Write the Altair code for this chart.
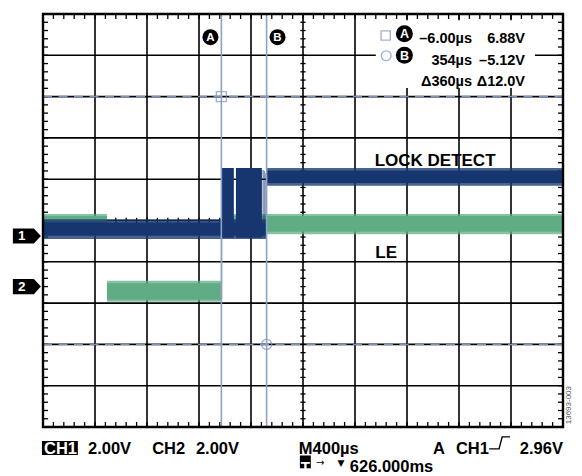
import altair as alt
import pandas as pd

# ------------------------------------------------------------------
# Data, in screen divisions: x 0..10 (400 us/div), y -5..5 (2 V/div)
# ------------------------------------------------------------------
grid_x = [1, 2, 3, 4, 5, 6, 7, 8, 9]
grid_y = [-4, -3, -2, -1, 0, 1, 2, 3, 4]

cursor_name = ["A", "B"]
cursor_x = [3.43, 4.30]
cursor_y = [3.0, -3.0]

# CH1 (LOCK DETECT) trace envelope per segment
ch1_x0 = [0.00, 4.30]
ch1_x1 = [4.30, 10.00]
ch1_core_lo = [-0.37, 0.91]
ch1_core_hi = [-0.05, 1.21]
ch1_env_lo = [-0.45, 0.84]
ch1_env_hi = [0.03, 1.27]

# CH1 chatter between the cursors
burst_x0 = [3.44, 3.71, 4.225, 4.255, 4.28]
burst_x1 = [3.67, 4.21, 4.24, 4.265, 4.29]
burst_lo = [-0.42, -0.42, -0.42, -0.42, -0.42]
burst_hi = [1.27, 1.27, 1.22, 1.20, 1.15]

# CH2 (LE) trace envelope per segment
ch2_x0 = [0.00, 1.23, 3.425, 3.43]
ch2_x1 = [1.23, 3.43, 3.445, 10.00]
ch2_core_lo = [-0.27, -1.92, -1.90, -0.27]
ch2_core_hi = [0.11, -1.52, 0.00, 0.11]
ch2_env_lo = [-0.33, -1.97, -1.90, -0.33]
ch2_env_hi = [0.16, -1.46, 0.00, 0.16]

# cursor readout
readout_t = ["\u20136.00\u00b5s", "354\u00b5s", "\u0394360\u00b5s"]
readout_v = ["6.88V", "\u20135.12V", "\u039412.0V"]

trace_labels = ["LOCK DETECT", "LE"]
ground_labels = ["1", "2"]
ground_y = [-0.375, -1.60]

bottom_row1 = ["2.00V", "CH2", "2.00V", "M400\u00b5s", "A", "CH1", "2.96V"]
bottom_row2 = ["626.000ms"]
figure_id = "13693-003"

# ------------------------------------------------------------------
BLUE = "#17366f"
GREEN = "#60ad85"
CURSOR = "#8ea2c8"
DASH = "#7c93c2"
FONT = "Liberation Sans"

xs = alt.Scale(domain=[0, 10], nice=False, zero=False)
ys = alt.Scale(domain=[-5, 5], nice=False, zero=False)


def X(f):
    return alt.X(f, type="quantitative", scale=xs, axis=None)


def Y(f):
    return alt.Y(f, type="quantitative", scale=ys, axis=None)


def rules(df, **kw):
    return alt.Chart(df).mark_rule(**kw).encode(x=X("x"), x2="x2", y=Y("y"), y2="y2")


def rects(df, **kw):
    return alt.Chart(df).mark_rect(**kw).encode(x=X("x"), x2="x2", y=Y("y"), y2="y2")


def texts(df, **kw):
    base = dict(font=FONT, fontWeight="bold", color="black")
    base.update(kw)
    return alt.Chart(df).mark_text(**base).encode(x=X("x"), y=Y("y"), text="t:N")


layers = []

# grid
layers.append(rules(pd.DataFrame({"x": grid_x, "x2": grid_x, "y": -5, "y2": 5}),
                    color="black", strokeWidth=1.6))
layers.append(rules(pd.DataFrame({"x": 0, "x2": 10, "y": grid_y, "y2": grid_y}),
                    color="black", strokeWidth=1.6))

# minor ticks (5 per division)
mx = [i / 5 for i in range(1, 50)]
my = [-5 + i / 5 for i in range(1, 50)]
tick_rows = []
for v in mx:
    tick_rows.append((v, v, 5, 5 - 0.12))
    tick_rows.append((v, v, -5, -5 + 0.12))
    tick_rows.append((v, v, -0.065, 0.065))
for v in my:
    tick_rows.append((0, 0.096, v, v))
    tick_rows.append((10 - 0.096, 10, v, v))
    tick_rows.append((5 - 0.05, 5 + 0.05, v, v))
ticks = pd.DataFrame(tick_rows, columns=["x", "x2", "y", "y2"])
layers.append(rules(ticks, color="black", strokeWidth=1.3))

# horizontal (voltage) cursors
layers.append(rules(pd.DataFrame({"x": 0, "x2": 10, "y": cursor_y, "y2": cursor_y}),
                    color=DASH, strokeWidth=1.5, strokeDash=[9, 6.5]))

# CH2 trace
ch2 = pd.DataFrame({"x": ch2_x0, "x2": ch2_x1})
layers.append(rects(ch2.assign(y=ch2_env_lo, y2=ch2_env_hi), color=GREEN, opacity=0.75))
layers.append(rects(ch2.assign(y=ch2_core_lo, y2=ch2_core_hi), color=GREEN, opacity=1))

# CH1 trace
ch1 = pd.DataFrame({"x": ch1_x0, "x2": ch1_x1})
layers.append(rects(ch1.assign(y=ch1_env_lo, y2=ch1_env_hi), color=BLUE, opacity=0.78))
layers.append(rects(ch1.assign(y=ch1_core_lo, y2=ch1_core_hi), color=BLUE, opacity=1))
layers.append(rects(pd.DataFrame({"x": burst_x0, "x2": burst_x1, "y": burst_lo, "y2": burst_hi}),
                    color=BLUE, opacity=1))

# vertical (time) cursors
layers.append(rules(pd.DataFrame({"x": cursor_x, "x2": cursor_x, "y": -5, "y2": 5}),
                    color=CURSOR, strokeWidth=1.6))

# cursor crossing markers
layers.append(alt.Chart(pd.DataFrame({"x": [cursor_x[0]], "y": [cursor_y[0]]}))
              .mark_point(shape="square", size=100, color=DASH, strokeWidth=1.4, filled=False)
              .encode(x=X("x"), y=Y("y")))
layers.append(alt.Chart(pd.DataFrame({"x": [cursor_x[1]], "y": [cursor_y[1]]}))
              .mark_point(shape="circle", size=100, color=DASH, strokeWidth=1.4, filled=False)
              .encode(x=X("x"), y=Y("y")))

# circled cursor names near the top
cur_tag = pd.DataFrame({"x": [3.22, 4.51], "y": [4.44, 4.44], "t": cursor_name})
layers.append(alt.Chart(cur_tag).mark_point(shape="circle", size=256, filled=True, color="black", opacity=1)
              .encode(x=X("x"), y=Y("y")))
layers.append(texts(cur_tag, color="white", fontSize=11.5, align="center", baseline="middle", dy=0.5))

# readout box
layers.append(rects(pd.DataFrame({"x": [6.40], "x2": [9.46], "y": [3.21], "y2": [4.85]}),
                    color="white", opacity=1))
layers.append(alt.Chart(pd.DataFrame({"x": [6.59], "y": [4.48]}))
              .mark_point(shape="square", size=85, color=DASH, strokeWidth=1.4, filled=False)
              .encode(x=X("x"), y=Y("y")))
layers.append(alt.Chart(pd.DataFrame({"x": [6.60], "y": [3.99]}))
              .mark_point(shape="circle", size=95, color=DASH, strokeWidth=1.4, filled=False)
              .encode(x=X("x"), y=Y("y")))
ro_tag = pd.DataFrame({"x": [6.95, 6.95], "y": [4.52, 4.00], "t": cursor_name})
layers.append(alt.Chart(ro_tag).mark_point(shape="circle", size=289, filled=True, color="black", opacity=1)
              .encode(x=X("x"), y=Y("y")))
layers.append(texts(ro_tag, color="white", fontSize=12.5, align="center", baseline="middle", dy=0.5))
ro_y = [4.39, 3.85, 3.36]
layers.append(texts(pd.DataFrame({"x": 8.25, "y": ro_y, "t": readout_t}), fontSize=14.5, align="right"))
layers.append(texts(pd.DataFrame({"x": 9.27, "y": ro_y, "t": readout_v}), fontSize=14.5, align="right"))

# trace labels
layers.append(texts(pd.DataFrame({"x": [7.54, 6.60], "y": [1.44, -0.79], "t": trace_labels}),
                    fontSize=17, align="center"))

# outer frame
layers.append(rects(pd.DataFrame({"x": [0], "x2": [10], "y": [-5], "y2": [5]}),
                    fillOpacity=0, stroke="black", strokeWidth=2.4))

# channel ground markers
gm = pd.DataFrame({"x": -0.31, "y": ground_y, "t": ground_labels})
layers.append(alt.Chart(gm).mark_point(shape="M-1,-0.54L0.5,-0.54L1,0L0.5,0.54L-1,0.54Z",
                                       size=784, filled=True, color="black", opacity=1, strokeWidth=0)
              .encode(x=X("x"), y=Y("y")))
layers.append(texts(gm.assign(x=-0.41), color="white", fontSize=13.5, align="center", baseline="middle", dy=0.5))

# bottom status line
layers.append(rects(pd.DataFrame({"x": [-0.02, 4.94], "x2": [0.67, 5.15],
                                  "y": [-5.34, -5.69], "y2": [-5.68, -6.00]}),
                    color="black", opacity=1))
layers.append(texts(pd.DataFrame({"x": [0.02], "y": [-5.53], "t": ["CH1"]}),
                    color="white", fontSize=16.5, align="left"))
layers.append(texts(pd.DataFrame({"x": [5.045], "y": [-5.975], "t": ["T"]}),
                    color="white", fontSize=15, align="center"))
layers.append(texts(pd.DataFrame({"x": [0.865, 2.10, 2.94, 4.92, 7.50, 7.94, 9.17],
                                  "y": -5.53, "t": bottom_row1}),
                    fontSize=16.5, align="left"))
layers.append(texts(pd.DataFrame({"x": [5.90], "y": [-5.97], "t": bottom_row2}),
                    fontSize=16.5, align="left"))
layers.append(texts(pd.DataFrame({"x": [5.33], "y": [-5.87], "t": ["\u2192"]}),
                    font="DejaVu Sans", fontWeight="normal", fontSize=10, align="center", baseline="middle"))
layers.append(texts(pd.DataFrame({"x": [5.73], "y": [-5.87], "t": ["\u25bc"]}),
                    font="DejaVu Sans", fontWeight="normal", fontSize=9, align="center", baseline="middle"))
trig = pd.DataFrame({"x": [8.58, 8.77, 8.83, 8.98], "y": [-5.53, -5.53, -5.24, -5.24], "o": [0, 1, 2, 3]})
layers.append(alt.Chart(trig).mark_line(color="black", strokeWidth=1.4)
              .encode(x=X("x"), y=Y("y"), order="o:O"))

# figure id
layers.append(texts(pd.DataFrame({"x": [10.12], "y": [-4.47], "t": [figure_id]}),
                    color="#555555", fontWeight="normal", fontSize=8, align="center",
                    baseline="middle", angle=270))

chart = (
    alt.layer(*layers)
    .properties(
        width=520,
        height=413,
        autosize=alt.AutoSizeParams(type="none"),
        padding={"left": 35, "top": 6, "right": 11, "bottom": 49},
        background="white",
    )
    .configure_view(strokeWidth=0)
)

chart.save("out.html", embed_options={"renderer": "svg", "actions": False})
